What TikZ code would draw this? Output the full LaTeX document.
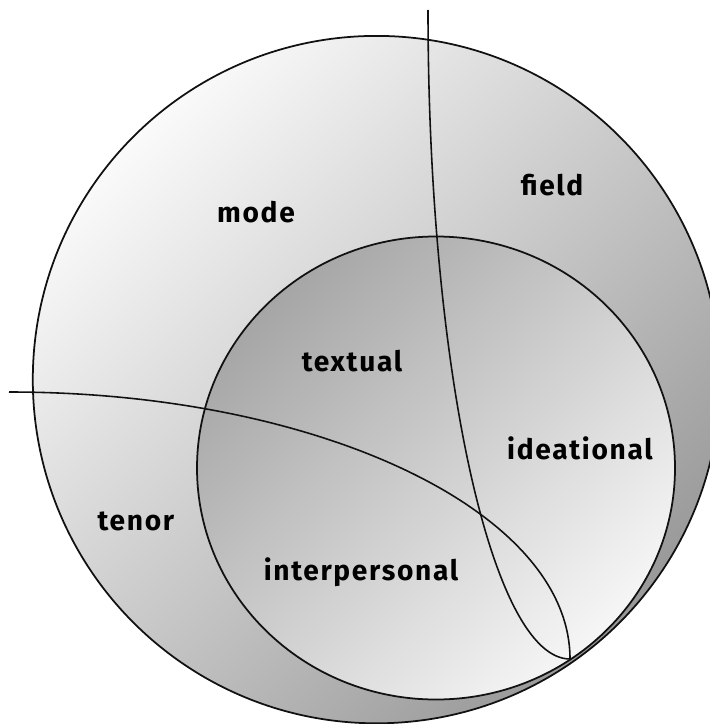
\documentclass[tikz,border=0pt]{standalone}
\usepackage{fontspec}
\usepackage{tikz}
\usepackage{xcolor}
\newfontfamily\handfont[LetterSpace=6]{Fira Sans}
\definecolor{cInk}{HTML}{111111}
\definecolor{cOutHi}{HTML}{FAFAFA}
\definecolor{cOutLo}{HTML}{999999}
\definecolor{cInHi}{HTML}{F6F6F6}
\definecolor{cInLo}{HTML}{A6A6A6}
\tikzset{
  ring/.style  ={draw=cInk,line width=1pt},
  outer/.style ={ring,top color=cOutHi,bottom color=cOutLo,shading angle=45},
  inner/.style ={ring,top color=cInLo,bottom color=cInHi,shading angle=45},
  bound/.style ={draw=cInk,line width=0.9pt},
  lbl/.style   ={font=\handfont\bfseries\fontsize{16}{19}\selectfont,inner sep=0pt},
}

\begin{document}
\begin{tikzpicture}[x=0.2mm,y=-0.2mm]
\useasboundingbox (0,0) rectangle (709,724);
\path[outer] (376.5,379.6) circle[radius=343.7];
\path[inner] (436,468) ellipse[x radius=239,y radius=231.5];
\draw[bound] (9,392) arc[start angle=-90,end angle=0,x radius=561,y radius=267];
\draw[bound] (428,10) arc[start angle=180,end angle=90,x radius=142,y radius=649];
\node[lbl] (mode)  at (256,212) {mode};
\node[lbl] (field) at (552,185) {field};
\node[lbl] (tenor) at (136,521) {tenor};
\node[lbl] (textual)       at (352,361) {textual};
\node[lbl] (ideational)    at (580,448) {ideational};
\node[lbl] (interpersonal) at (361,572) {interpersonal};
\end{tikzpicture}
\end{document}
